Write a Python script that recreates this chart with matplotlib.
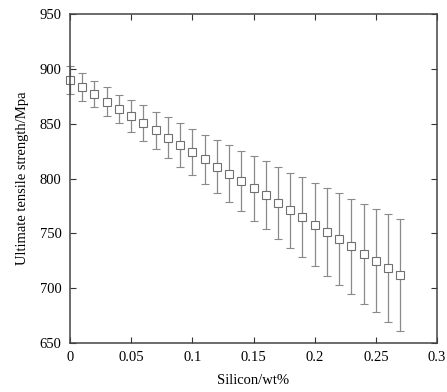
import matplotlib
matplotlib.use("Agg")
import matplotlib.pyplot as plt

silicon = [0.00, 0.01, 0.02, 0.03, 0.04, 0.05, 0.06, 0.07, 0.08, 0.09,
           0.10, 0.11, 0.12, 0.13, 0.14, 0.15, 0.16, 0.17, 0.18, 0.19,
           0.20, 0.21, 0.22, 0.23, 0.24, 0.25, 0.26, 0.27]
uts = [890, 883.4, 876.8, 870, 863.4, 857, 850.6, 843.9, 837.2, 830.5,
       823.8, 817.4, 810.7, 804.3, 797.6, 791, 784.6, 777.6, 771, 764.6,
       757.9, 751.5, 744.8, 738, 731.5, 725, 718.4, 712]
err = [12.5, 13, 12, 13, 13, 14.5, 16, 17, 18.5, 19.7,
       21, 22.6, 24, 26, 27.5, 29.5, 31, 33, 34, 36.5,
       38, 40, 42, 43.5, 45.7, 47, 49, 51]
xticks = [0, 0.05, 0.1, 0.15, 0.2, 0.25, 0.3]
xticklabels = ["0", "0.05", "0.1", "0.15", "0.2", "0.25", "0.3"]
yticks = [650, 700, 750, 800, 850, 900, 950]

plt.rcParams['font.family'] = ['Liberation Serif', 'DejaVu Serif']

fig = plt.figure(figsize=(4.47, 3.92), dpi=100)
ax = fig.add_axes([70/447, 1-343/392, 367/447, 329/392])

cont = ax.errorbar(silicon, uts, yerr=err, fmt='s', mfc='white', mec='#707070',
                   ms=6, mew=0.8, ecolor='#8a8a8a', elinewidth=0.9, capsize=3,
                   capthick=0.9)
for art in cont.get_children():
    art.set_clip_on(False)

ax.set_xlim(0, 0.3)
ax.set_ylim(650, 950)
ax.set_xticks(xticks)
ax.set_xticklabels(xticklabels)
ax.set_yticks(yticks)
ax.tick_params(direction='in', top=True, right=True, length=4, width=0.8,
               color='#333333', labelsize=10.5, pad=6)
for s in ax.spines.values():
    s.set_color('#444444')
    s.set_linewidth(1.1)
ax.set_xlabel("Silicon/wt%", fontsize=10.5, labelpad=7)
ax.set_ylabel("Ultimate tensile strength/Mpa", fontsize=10.5, labelpad=8)

fig.savefig("out.png", dpi=100)
